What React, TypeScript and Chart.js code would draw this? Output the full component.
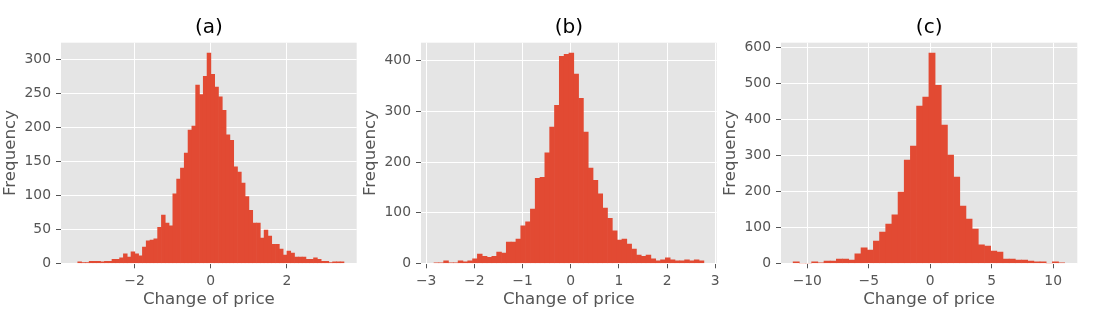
import React, { useEffect, useRef } from "react";
import { Chart, registerables } from "chart.js";

Chart.register(...registerables);

// ---- Data (histogram counts per bin) ----
const countsA = [
  2, 1, 1, 3, 3, 3, 2, 3, 3, 6,
  6, 8, 14, 9, 17, 14, 11, 24, 33, 34,
  36, 53, 71, 59, 55, 102, 124, 140, 162, 196,
  202, 262, 248, 275, 309, 278, 259, 245, 225, 189,
  181, 142, 134, 118, 98, 78, 59, 59, 37, 49,
  40, 28, 28, 21, 12, 18, 15, 9, 9, 9,
  6, 6, 8, 6, 3, 3, 1, 2, 2, 2,
];
const binStartA = -3.49;
const binWidthA = 0.0998;

const countsB = [
  1, 1, 5, 1, 1, 5, 3, 5, 9, 18,
  14, 12, 14, 22, 20, 42, 42, 48, 74, 82,
  107, 168, 170, 218, 269, 312, 409, 413, 415, 374,
  326, 259, 188, 164, 137, 109, 89, 64, 46, 48,
  38, 28, 16, 14, 16, 9, 5, 7, 11, 7,
  5, 5, 7, 5, 7, 5,
];
const binStartB = -2.836;
const binWidthB = 0.1;

const countsC = [
  4, 0, 0, 4, 1, 6, 6, 12, 12, 9,
  26, 43, 37, 62, 87, 109, 135, 198, 287, 326,
  437, 462, 584, 495, 384, 301, 240, 159, 123, 95,
  51, 48, 34, 31, 12, 12, 9, 9, 6, 4,
  4, 0, 4, 1,
];
const binStartC = -11.153;
const binWidthC = 0.502;

const panelTitles = ["(a)", "(b)", "(c)"];
const xLabel = "Change of price";
const yLabel = "Frequency";

const xLimitsA = [-3.93, 3.83];
const xLimitsB = [-3.106, 3.03];
const xLimitsC = [-12.14, 11.96];
const xStepA = 2;
const xStepB = 1;
const xStepC = 5;
const yStepA = 50;
const yStepB = 100;
const yStepC = 100;

const FONT = "'DejaVu Sans', sans-serif";
const BAR_COLOR = "#E24A33";
const PANEL_BG = "#E5E5E5";
const TEXT_GREY = "#555555";

const bgPlugin = {
  id: "panelBackground",
  beforeDraw(chart: any) {
    const { ctx, chartArea } = chart;
    if (!chartArea) return;
    ctx.save();
    ctx.fillStyle = PANEL_BG;
    ctx.fillRect(
      chartArea.left,
      chartArea.top,
      chartArea.right - chartArea.left,
      chartArea.bottom - chartArea.top
    );
    ctx.restore();
  },
};

const fmtTick = (v: any) => {
  const n = Number(v);
  if (Math.abs(n) < 1e-9) return "0";
  return n < 0 ? "\u2212" + String(Math.abs(n)) : String(n);
};

type HistProps = {
  left: number;
  rightPad: number;
  counts: number[];
  binStart: number;
  binWidth: number;
  xLimits: number[];
  xStep: number;
  yStep: number;
  title: string;
};

function Histogram(props: HistProps) {
  const ref = useRef<HTMLCanvasElement>(null);
  useEffect(() => {
    const { counts, binStart, binWidth, xLimits, xStep, yStep, title, rightPad } = props;
    const data = counts.map((c, i) => ({ x: binStart + (i + 0.5) * binWidth, y: c }));
    const yMax = Math.max(...counts) * 1.05;
    const chart = new Chart(ref.current as HTMLCanvasElement, {
      type: "bar",
      data: {
        datasets: [
          {
            data: data as any,
            backgroundColor: BAR_COLOR,
            borderWidth: 0,
            barPercentage: 1,
            categoryPercentage: 1,
            xAxisID: "x",
            yAxisID: "y",
          } as any,
        ],
      },
      options: {
        animation: false,
        responsive: false,
        events: [],
        layout: { padding: { left: 0, right: rightPad, top: 0, bottom: 0 } },
        plugins: {
          legend: { display: false },
          tooltip: { enabled: false },
          title: { display: false },
        },
        scales: {
          x: {
            type: "linear",
            position: "bottom",
            min: xLimits[0],
            max: xLimits[1],
            offset: false,
            grid: {
              color: "#ffffff",
              lineWidth: 1,
              offset: false,
              tickColor: TEXT_GREY,
              tickLength: 5,
              tickWidth: 1,
            },
            border: { display: false },
            ticks: {
              stepSize: xStep,
              includeBounds: false,
              autoSkip: false,
              maxRotation: 0,
              minRotation: 0,
              padding: 5,
              color: TEXT_GREY,
              font: { family: FONT, size: 13.89 },
              callback: fmtTick,
            },
            title: {
              display: true,
              text: xLabel,
              color: TEXT_GREY,
              font: { family: FONT, size: 16.67 },
              padding: { top: 0, bottom: 19.3 },
            },
            afterFit: (s: any) => {
              s.height = 65.7;
              s.paddingLeft = 0;
              s.paddingRight = 0;
            },
          } as any,
          x2: {
            type: "linear",
            position: "top",
            display: true,
            grid: { display: false, drawTicks: false },
            border: { display: false },
            ticks: { display: false },
            title: {
              display: true,
              text: title,
              color: "#000000",
              font: { family: FONT, size: 20 },
              padding: { top: 15.5, bottom: 0 },
            },
            afterFit: (s: any) => {
              s.height = 42.7;
              s.paddingLeft = 0;
              s.paddingRight = 0;
            },
          } as any,
          y: {
            type: "linear",
            position: "left",
            min: 0,
            max: yMax,
            grid: {
              color: "#ffffff",
              lineWidth: 1,
              tickColor: TEXT_GREY,
              tickLength: 5,
              tickWidth: 1,
            },
            border: { display: false },
            ticks: {
              stepSize: yStep,
              includeBounds: false,
              padding: 5,
              color: TEXT_GREY,
              font: { family: FONT, size: 13.89 },
              callback: fmtTick,
            },
            title: {
              display: true,
              text: yLabel,
              color: TEXT_GREY,
              font: { family: FONT, size: 16.67 },
              padding: { top: 0.5, bottom: 0 },
            },
            afterFit: (s: any) => {
              s.width = 61;
              s.paddingTop = 0;
              s.paddingBottom = 0;
            },
          } as any,
        },
      },
      plugins: [bgPlugin],
    });
    return () => chart.destroy();
  }, []);
  return (
    <canvas
      ref={ref}
      width={360}
      height={329}
      style={{ position: "absolute", left: props.left, top: 0, width: 360, height: 329 }}
    />
  );
}

export default function App() {
  return (
    <div
      style={{
        position: "absolute",
        left: 0,
        top: 0,
        width: 1093,
        height: 329,
        background: "#ffffff",
        overflow: "hidden",
      }}
    >
      <Histogram
        left={0}
        rightPad={3.3}
        counts={countsA}
        binStart={binStartA}
        binWidth={binWidthA}
        xLimits={xLimitsA}
        xStep={xStepA}
        yStep={yStepA}
        title={panelTitles[0]}
      />
      <Histogram
        left={360}
        rightPad={3.3}
        counts={countsB}
        binStart={binStartB}
        binWidth={binWidthB}
        xLimits={xLimitsB}
        xStep={xStepB}
        yStep={yStepB}
        title={panelTitles[1]}
      />
      <Histogram
        left={720}
        rightPad={2.7}
        counts={countsC}
        binStart={binStartC}
        binWidth={binWidthC}
        xLimits={xLimitsC}
        xStep={xStepC}
        yStep={yStepC}
        title={panelTitles[2]}
      />
    </div>
  );
}
